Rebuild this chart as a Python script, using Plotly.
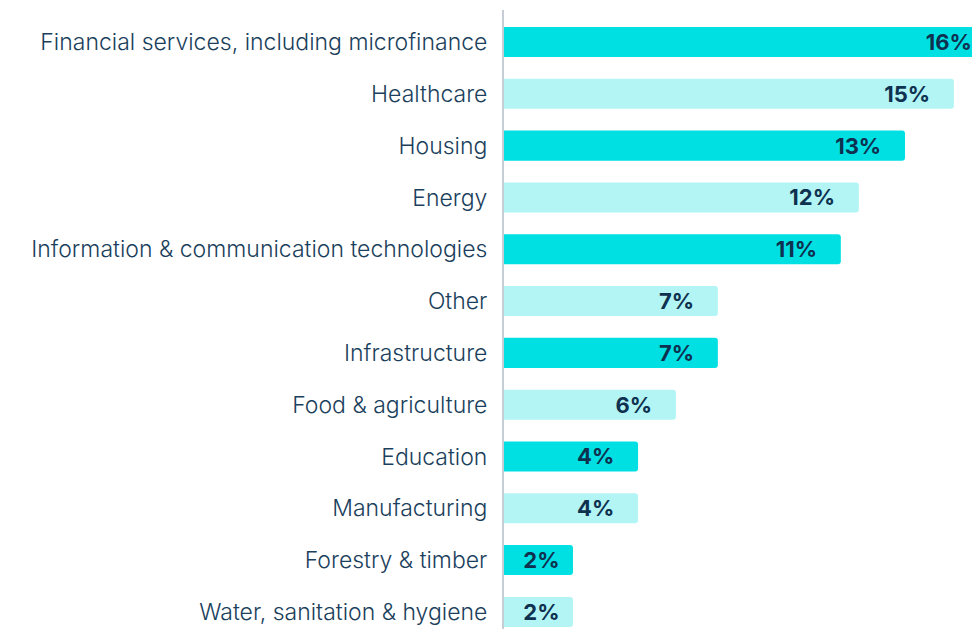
import plotly.graph_objects as go

sectors = [
    "Financial services, including microfinance",
    "Healthcare",
    "Housing",
    "Energy",
    "Information & communication technologies",
    "Other",
    "Infrastructure",
    "Food & agriculture",
    "Education",
    "Manufacturing",
    "Forestry & timber",
    "Water, sanitation & hygiene",
]
shares = [15.87, 15.0, 13.37, 11.83, 11.23, 7.13, 7.13, 5.73, 4.47, 4.47, 2.3, 2.3]
labels = ["16%", "15%", "13%", "12%", "11%", "7%", "7%", "6%", "4%", "4%", "2%", "2%"]

colors = ["#00E0E3" if i % 2 == 0 else "#B3F5F5" for i in range(len(sectors))]

# espace insécable après le label pour le décoller du bout de la barre
texts = []
for i, (l, s) in enumerate(zip(labels, shares)):
    n = 1 if i == 0 else (2 if s < 3 else 4)
    texts.append(l + "\u00a0" * n)

fig = go.Figure()
fig.add_trace(go.Bar(
    x=shares, y=sectors, orientation="h",
    marker=dict(color=colors, line=dict(width=0), cornerradius=3),
    text=texts,
    textposition="inside", insidetextanchor="end",
    constraintext="none",
    textfont=dict(family="Inter", size=22, color="#0E3150", weight="bold"),
    hoverinfo="skip",
))

# la page html ajoute 8px de marge au body : on compense
fig.update_layout(
    width=972, height=621,
    margin=dict(l=496, r=0, t=2, b=0),
    paper_bgcolor="white", plot_bgcolor="white",
    bargap=0.42, showlegend=False,
    xaxis=dict(range=[0, 15.87], visible=False, showgrid=False, zeroline=False),
    yaxis=dict(range=[11.33, -0.618], showline=True, linecolor="#C6CDD4", linewidth=2,
               showgrid=False, zeroline=False, ticks="", ticklabelstandoff=10,
               tickfont=dict(family="Inter", size=23, color="#1B3F5C", weight=300)),
)

fig.write_html("out.html")
